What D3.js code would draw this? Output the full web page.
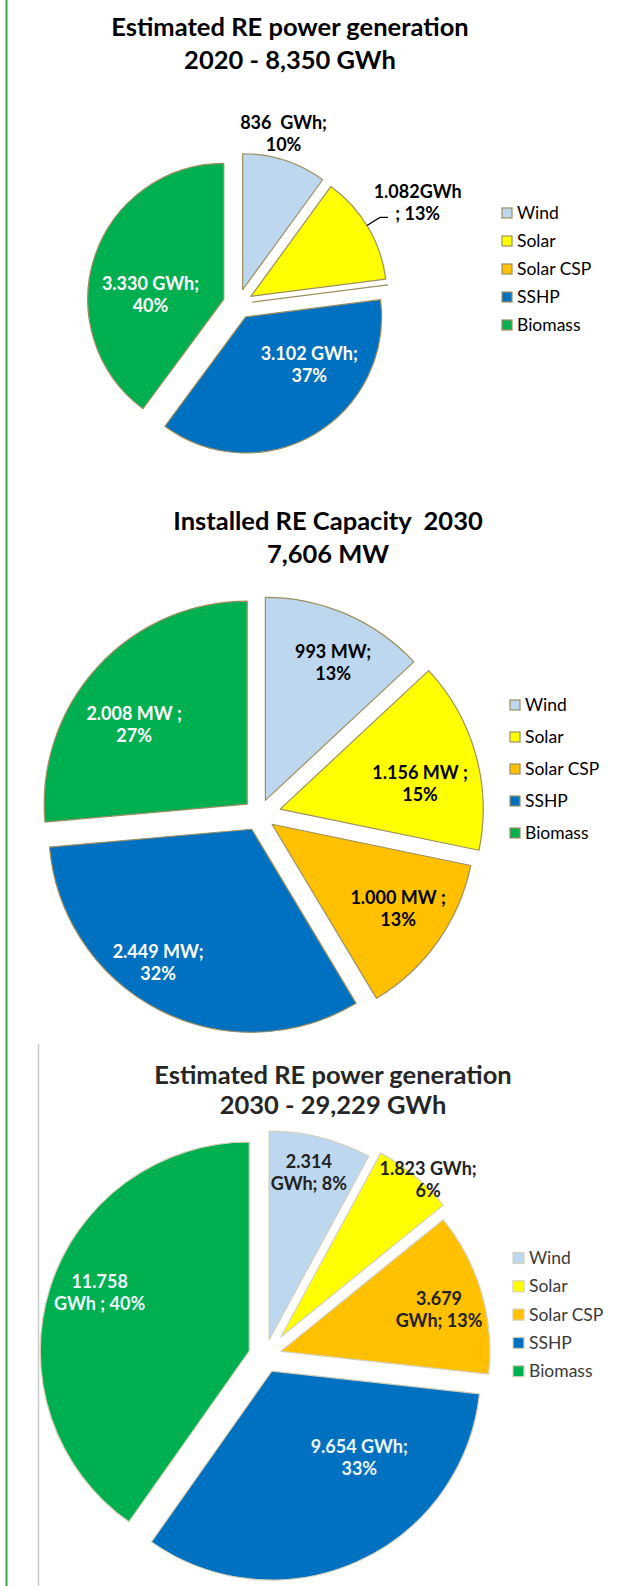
<!DOCTYPE html>
<html>
<head>
<meta charset="utf-8">
<script src="https://cdn.jsdelivr.net/npm/d3@7"></script>
<style>
  body { margin: 0; background: #fff; }
  svg { display: block; }
  text { font-family: Lato, "Open Sans", sans-serif; white-space: pre; }
</style>
</head>
<body>
<div id="chart"></div>
<script>
var categories = ["Wind", "Solar", "Solar CSP", "SSHP", "Biomass"];
var colors = ["#BDD7EE", "#FFFF00", "#FFC000", "#0070C0", "#00B050"];

// values per chart
var gen2020 = [836, 1082, 0, 3102, 3330];
var cap2030 = [993, 1156, 1000, 2449, 2008];
var gen2030 = [2314, 1823, 3679, 9654, 11758];

// data labels, as printed on the slices
var labels2020 = [["836  GWh;", "10%"], ["1.082GWh", "; 13%"], null, ["3.102 GWh;", "37%"], ["3.330 GWh;", "40%"]];
var labelsCap2030 = [["993 MW;", "13%"], ["1.156 MW ;", "15%"], ["1.000 MW ;", "13%"], ["2.449 MW;", "32%"], ["2.008 MW ;", "27%"]];
var labelsGen2030 = [["2.314", "GWh; 8%"], ["1.823 GWh;", "6%"], ["3.679", "GWh; 13%"], ["9.654 GWh;", "33%"], ["11.758", "GWh ; 40%"]];

var titles = [
  ["Estimated RE power generation", "2020 - 8,350 GWh"],
  ["Installed RE Capacity  2030", "7,606 MW"],
  ["Estimated RE power generation", "2030 - 29,229 GWh"]
];

var svgWidth = 640;
var svgHeight = 1586;

var svg = d3
  .select("#chart")
  .append("svg")
  .attr("width", svgWidth)
  .attr("height", svgHeight);

// page rules
svg.append("line")
  .attr("x1", 6.5).attr("x2", 6.5)
  .attr("y1", 0).attr("y2", svgHeight)
  .attr("stroke", "#34a853")
  .attr("stroke-width", 2);

svg.append("line")
  .attr("x1", 38.5).attr("x2", 38.5)
  .attr("y1", 1044).attr("y2", svgHeight)
  .attr("stroke", "#c9c9c9")
  .attr("stroke-width", 1.5);

// layout + style for each pie
var charts = [
  {
    values: gen2020, labels: labels2020, title: titles[0],
    cx: 238, cy: 304, r: 136, explode: [15, 15, 15, 15, 15],
    titleX: 290, titleY: [36, 69], titleColor: "#000",
    legend: { x: 502, y: 213, step: 28, size: 10, textX: 517 },
    labelPolar: [[15, 176], [60.7, 206], null, [130.7, 94], [276, 88]],
    labelColor: ["#000", "#000", "#000", "#fff", "#fff"],
    stroke: "#9e8f5f", textColor: "#000", leader: 1
  },
  {
    values: cap2030, labels: labelsCap2030, title: titles[1],
    cx: 259, cy: 815, r: 203, explode: [16, 22, 16, 16, 16],
    titleX: 328, titleY: [530, 563], titleColor: "#000",
    legend: { x: 510, y: 705, step: 32, size: 10, textX: 525 },
    labelPolar: [[26, 169], [79.1, 164], [124.1, 168], [214.3, 179], [305.8, 154]],
    labelColor: ["#000", "#000", "#000", "#fff", "#fff"],
    stroke: "#9e8f5f", textColor: "#000", leader: -1
  },
  {
    values: gen2030, labels: labelsGen2030, title: titles[2],
    cx: 265, cy: 1356, r: 209, explode: [16.5, 25, 16.5, 16.5, 16.5],
    titleX: 333, titleY: [1084, 1114], titleColor: "#262626",
    legend: { x: 513, y: 1258, step: 28.3, size: 11, textX: 529 },
    labelPolar: [[13.5, 188], [42.8, 240], [75.2, 180], [137.3, 139], [290.9, 177]],
    labelColor: ["#222", "#222", "#222", "#eef6ff", "#eef6ff"],
    stroke: "#d6d0b8", textColor: "#3a3a3a", leader: -1
  }
];

var pie = d3.pie().sort(null).value(function (d) { return d; });

function polar(deg, r) {
  var a = deg * Math.PI / 180;
  return [r * Math.sin(a), -r * Math.cos(a)];
}

charts.forEach(function (c) {
  var g = svg.append("g");

  // title
  g.selectAll(".title")
    .data(c.title)
    .enter()
    .append("text")
    .attr("class", "title")
    .attr("x", c.titleX)
    .attr("y", function (d, i) { return c.titleY[i]; })
    .attr("text-anchor", "middle")
    .attr("font-size", "25.5px")
    .attr("font-weight", "bold")
    .attr("fill", c.titleColor)
    .text(function (d) { return d; });

  var arc = d3.arc().innerRadius(0).outerRadius(c.r);
  var arcs = pie(c.values);

  var pieGroup = g.append("g")
    .attr("transform", "translate(" + c.cx + "," + c.cy + ")");

  pieGroup.selectAll(".slice")
    .data(arcs)
    .enter()
    .append("path")
    .attr("class", "slice")
    .attr("transform", function (d, i) {
      var mid = (d.startAngle + d.endAngle) / 2;
      var e = c.explode[i];
      return "translate(" + (e * Math.sin(mid)) + "," + (-e * Math.cos(mid)) + ")";
    })
    .attr("d", arc)
    .attr("fill", function (d, i) { return colors[i]; })
    .attr("stroke", c.stroke)
    .attr("stroke-width", 1.2)
    .attr("stroke-linejoin", "round");

  // leader line for the label that sits outside
  if (c.leader >= 0) {
    var d = arcs[c.leader];
    var mid = (d.startAngle + d.endAngle) / 2;
    var e = c.explode[c.leader];
    var ang = mid * 180 / Math.PI - 0.8;
    var p0 = polar(ang, c.r);
    var sx = e * Math.sin(mid) + p0[0];
    var sy = -e * Math.cos(mid) + p0[1];
    pieGroup.append("path")
      .attr("d", d3.line()([[sx, sy], [sx + 13, sy - 8], [sx + 21, sy - 8]]))
      .attr("fill", "none")
      .attr("stroke", "#000")
      .attr("stroke-width", 1.3);
  }

  // data labels
  var labelGroups = pieGroup.selectAll(".label")
    .data(arcs.filter(function (d, i) { return c.labels[i] && c.labelPolar[i]; }))
    .enter()
    .append("text")
    .attr("class", "label")
    .attr("text-anchor", "middle")
    .attr("font-size", "18px")
    .attr("font-weight", "bold")
    .attr("fill", function (d) { return c.labelColor[d.index]; });

  labelGroups.each(function (d) {
    var p = polar(c.labelPolar[d.index][0], c.labelPolar[d.index][1]);
    d3.select(this)
      .selectAll("tspan")
      .data(c.labels[d.index])
      .enter()
      .append("tspan")
      .attr("x", p[0])
      .attr("y", function (t, j) { return p[1] - 5 + j * 22; })
      .text(function (t) { return t; });
  });

  // legend
  var legend = g.selectAll(".legend")
    .data(categories)
    .enter()
    .append("g")
    .attr("class", "legend")
    .attr("transform", function (d, i) {
      return "translate(0," + (c.legend.y + i * c.legend.step) + ")";
    });

  legend.append("rect")
    .attr("x", c.legend.x)
    .attr("y", -c.legend.size / 2)
    .attr("width", c.legend.size)
    .attr("height", c.legend.size)
    .attr("fill", function (d, i) { return colors[i]; })
    .attr("stroke", c.stroke)
    .attr("stroke-width", 1.2);

  legend.append("text")
    .attr("x", c.legend.textX)
    .attr("y", 6)
    .attr("font-size", "17.5px")
    .attr("fill", c.textColor)
    .text(function (d) { return d; });
});
</script>
</body>
</html>
